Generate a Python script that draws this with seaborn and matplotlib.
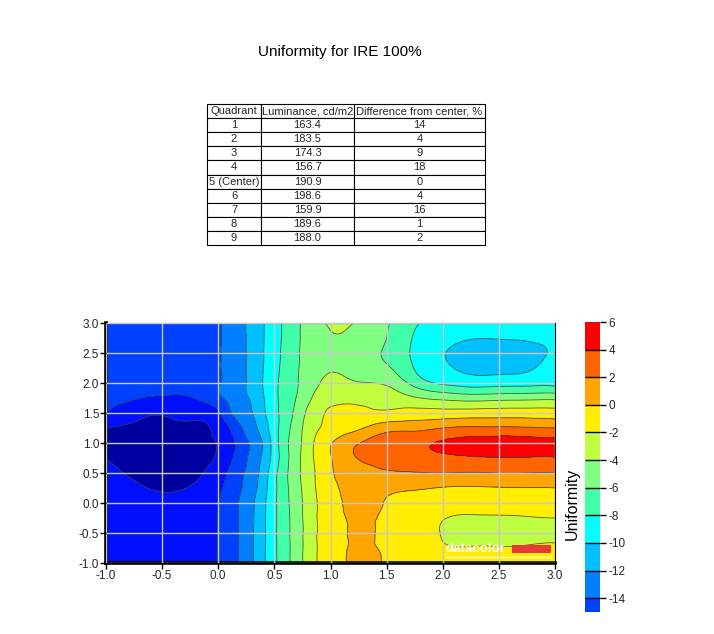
import matplotlib
matplotlib.use("Agg")
import matplotlib.pyplot as plt
import matplotlib.tri as mtri
from matplotlib.cm import ScalarMappable
from matplotlib.colors import BoundaryNorm, ListedColormap
from matplotlib.patches import Rectangle
from matplotlib.ticker import FormatStrFormatter, MultipleLocator
import numpy as np
import seaborn as sns

# --- data -----------------------------------------------------------------
title = "Uniformity for IRE 100%"
table_header = ["Quadrant", "Luminance, cd/m2", "Difference from center, %"]
quadrants = ["1", "2", "3", "4", "5 (Center)", "6", "7", "8", "9"]
luminance = ["163.4", "183.5", "174.3", "156.7", "190.9", "198.6", "159.9", "189.6", "188.0"]
difference = ["14", "4", "9", "18", "0", "4", "16", "1", "2"]

# sample positions of the uniformity map (denser where the map is steep)
x_pos = [-1.0, -0.75, -0.5, -0.25, 0.0, 0.125, 0.25, 0.375, 0.5, 0.625, 0.75, 0.875,
         1.0, 1.25, 1.5, 1.75, 2.0, 2.25, 2.5, 2.75, 3.0]
y_pos = [3.0, 2.75, 2.5, 2.25, 2.0, 1.75, 1.5, 1.25, 1.0,
         0.75, 0.5, 0.25, 0.0, -0.25, -0.5, -0.75, -1.0]

# uniformity values read per column (top to bottom)
col_xm100 = [-15.0, -15.1, -15.2, -15.4, -15.6, -15.8, -16.1, -18.05, -18.6, -18.05, -17.6, -17.3, -17.1, -17.0, -16.9, -16.9, -16.9]
col_xm075 = [-15.0, -15.1, -15.2, -15.4, -15.6, -15.9, -17.2, -18.4, -18.9, -18.8, -18.3, -17.7, -17.3, -17.1, -17.0, -16.9, -16.9]
col_xm050 = [-15.0, -15.1, -15.2, -15.4, -15.7, -16.2, -17.8, -18.5, -19.0, -19.1, -18.8, -18.2, -17.6, -17.3, -17.1, -17.0, -17.0]
col_xm025 = [-14.9, -15.0, -15.1, -15.3, -15.6, -16.1, -17.5, -18.3, -18.7, -18.7, -18.4, -17.9, -17.4, -17.2, -17.0, -17.0, -17.0]
col_x000 = [-14.3, -14.25, -14.2, -14.2, -14.2, -14.5, -16.3, -17.4, -17.9, -17.7, -17.0, -16.4, -16.1, -15.95, -15.95, -15.95, -15.95]
col_x013 = [-13.15, -13.12, -13.1, -13.1, -13.1, -13.3, -13.9, -15.55, -16.5, -16.1, -15.4, -15.05, -14.7, -14.7, -14.7, -14.7, -14.7]
col_x025 = [-12.0, -12.0, -12.0, -12.0, -12.0, -12.2, -12.6, -13.4, -14.35, -14.15, -13.8, -13.5, -13.1, -13.05, -13.0, -13.0, -13.0]
col_x038 = [-10.48, -10.46, -10.44, -10.4, -10.33, -10.6, -10.85, -11.5, -12.4, -12.1, -11.7, -11.4, -11.0, -10.95, -10.9, -10.9, -10.9]
col_x050 = [-8.87, -8.8, -8.71, -8.6, -8.46, -8.5, -8.6, -8.8, -9.08, -9.1, -8.6, -8.5, -8.4, -8.4, -8.4, -8.4, -8.4]
col_x063 = [-7.27, -7.2, -7.12, -7.05, -6.96, -6.8, -6.7, -6.3, -6.0, -6.1, -5.9, -6.0, -6.1, -6.2, -6.2, -6.25, -6.25]
col_x075 = [-5.84, -5.82, -5.8, -5.7, -5.58, -5.2, -4.4, -4.0, -3.83, -3.7, -3.7, -3.85, -4.0, -4.05, -4.1, -4.1, -4.1]
col_x088 = [-4.82, -4.95, -5.1, -4.8, -4.26, -3.5, -2.8, -2.3, -1.6, -1.6, -1.8, -1.9, -2.1, -2.05, -2.07, -2.08, -2.08]
col_x100 = [-3.7, -4.2, -4.5, -4.2, -3.6, -2.8, -1.6, -1.3, -0.13, -0.1, -0.25, -0.55, -0.8, -0.95, -1.0, -1.05, -1.08]
col_x125 = [-4.3, -4.7, -5.0, -4.7, -3.9, -2.6, -1.5, -0.3, 1.9, 2.1, 1.2, 0.7, 0.5, 0.4, 0.35, 0.4, 0.4]
col_x150 = [-5.8, -6.0, -6.3, -5.7, -4.3, -2.9, -1.6, 1.2, 3.0, 2.7, 1.8, 0.5, -0.1, -0.4, -0.5, -0.4, -0.2]
col_x175 = [-7.7, -8.2, -8.4, -8.1, -6.7, -3.8, -1.2, 1.4, 3.5, 3.3, 1.9, 0.2, -0.6, -1.0, -1.1, -1.0, -0.8]
col_x200 = [-8.9, -9.4, -9.9, -9.7, -8.3, -4.5, -1.2, 2.0, 4.2, 3.6, 2.0, -0.1, -1.2, -1.9, -2.1, -1.8, -1.3]
col_x225 = [-9.4, -9.9, -10.8, -10.4, -8.9, -4.9, -1.1, 2.3, 4.6, 3.8, 1.9, -0.2, -1.4, -2.2, -2.6, -1.9, -1.4]
col_x250 = [-9.5, -9.9, -11.0, -10.5, -8.8, -4.7, -1.0, 2.3, 4.8, 3.9, 2.0, -0.1, -1.3, -2.2, -2.7, -1.9, -1.5]
col_x275 = [-9.5, -9.8, -10.6, -10.2, -8.7, -4.6, -1.0, 2.2, 4.7, 3.9, 2.0, -0.05, -1.2, -2.1, -2.5, -1.85, -1.5]
col_x300 = [-9.4, -9.7, -9.8, -9.6, -8.7, -4.5, -1.1, 2.0, 4.6, 3.9, 2.0, 0.0, -1.0, -2.0, -2.3, -1.8, -1.5]

levels = [-30, -18, -16, -14, -12, -10, -8, -6, -4, -2, 0, 2, 4, 6]
band_colors = ["#0000a0", "#0010ff", "#0040ff", "#0080ff", "#00c0ff", "#00ffff",
               "#40ffa8", "#80ff80", "#c0ff40", "#ffee00", "#ffa500", "#ff6400", "#ff0000"]
cbar_ticks = [-14, -12, -10, -8, -6, -4, -2, 0, 2, 4, 6]
cbar_bottom = -15

# --- figure ---------------------------------------------------------------
sns.set_theme(style="white")
plt.rcParams["font.family"] = ["Liberation Sans", "DejaVu Sans"]
plt.rcParams["axes.unicode_minus"] = False

fig = plt.figure(figsize=(7.14, 6.34), dpi=100)
fig.patch.set_facecolor("white")

fig.text(340 / 714, 1 - 52 / 634, title, ha="center", va="center", fontsize=11, color="black")

# table
ax_tab = fig.add_axes([207 / 714, 1 - 245 / 634, 278 / 714, 141 / 634])
ax_tab.axis("off")
cell_text = [list(r) for r in zip(quadrants, luminance, difference)]
tbl = ax_tab.table(cellText=cell_text, colLabels=table_header, cellLoc="center",
                   colWidths=[54, 93, 131], bbox=[0, 0, 1, 1])
tbl.auto_set_font_size(False)
tbl.set_fontsize(8)
for cell in tbl.get_celld().values():
    cell.set_edgecolor("black")
    cell.set_linewidth(0.8)
    cell.set_facecolor("white")

# contour map
zz = np.column_stack([col_xm100, col_xm075, col_xm050, col_xm025, col_x000, col_x013,
                      col_x025, col_x038, col_x050, col_x063, col_x075, col_x088,
                      col_x100, col_x125, col_x150, col_x175, col_x200, col_x225,
                      col_x250, col_x275, col_x300])
xx, yy = np.meshgrid(x_pos, y_pos)
tri = mtri.Triangulation(xx.ravel(), yy.ravel())
tri_fine, z_fine = mtri.UniformTriRefiner(tri).refine_field(zz.ravel(), subdiv=3)

ax = fig.add_axes([106 / 714, 1 - 563 / 634, 449 / 714, 240 / 634])
ax.tricontourf(tri_fine, z_fine, levels=levels, colors=band_colors, extend="both", zorder=0)
ax.tricontour(tri_fine, z_fine, levels=levels[1:-1], colors="#3c3c3c",
              linewidths=0.6, linestyles="solid", alpha=0.85, zorder=1)

ax.set_xlim(-1, 3)
ax.set_ylim(-1, 3)
ax.xaxis.set_major_locator(MultipleLocator(0.5))
ax.yaxis.set_major_locator(MultipleLocator(0.5))
ax.xaxis.set_major_formatter(FormatStrFormatter("%.1f"))
ax.yaxis.set_major_formatter(FormatStrFormatter("%.1f"))
ax.set_axisbelow(False)
ax.grid(True, color="#c8c8c8", linewidth=1.0)
ax.tick_params(axis="both", which="major", direction="out", length=4, width=1,
               color="black", labelsize=8.5, pad=1, bottom=True, left=True)
for side in ["left", "bottom"]:
    ax.spines[side].set_linewidth(2.6)
    ax.spines[side].set_color("black")
for side in ["top", "right"]:
    ax.spines[side].set_linewidth(0.8)
    ax.spines[side].set_color("black")

# datacolor mark
ax.text(0.757, 0.06, "datacolor", transform=ax.transAxes, color="white",
        fontsize=9.6, fontweight="bold", ha="left", va="center", zorder=5)
ax.add_patch(Rectangle((0.904, 0.042), 0.087, 0.035, transform=ax.transAxes,
                       facecolor="#e8383a", edgecolor="none", zorder=5))
ax.plot([0.757, 0.991], [0.025, 0.025], transform=ax.transAxes, color="#fff8c0",
        linewidth=1, zorder=5)

# colorbar
cax = fig.add_axes([585 / 714, 1 - 612 / 634, 15 / 714, 290 / 634])
bar_levels = levels[2:]
sm = ScalarMappable(norm=BoundaryNorm(bar_levels, len(bar_levels) - 1),
                    cmap=ListedColormap(band_colors[2:]))
bounds = [cbar_bottom] + cbar_ticks
mids = [(a + b) / 2 for a, b in zip(bounds[:-1], bounds[1:])]
cbar = fig.colorbar(sm, cax=cax, boundaries=bounds, values=mids, ticks=cbar_ticks,
                    spacing="proportional", drawedges=True, format="%d")
cbar.outline.set_visible(False)
cbar.dividers.set_color("black")
cbar.dividers.set_linewidth(1.0)
cax.tick_params(direction="out", length=4, width=1, color="black", labelsize=8.5, pad=2)
fig.text(572 / 714, 1 - 504 / 634, "Uniformity", rotation=90, ha="center", va="center",
         fontsize=11.5, color="black")

fig.savefig("out.png", dpi=100)
plt.close(fig)
